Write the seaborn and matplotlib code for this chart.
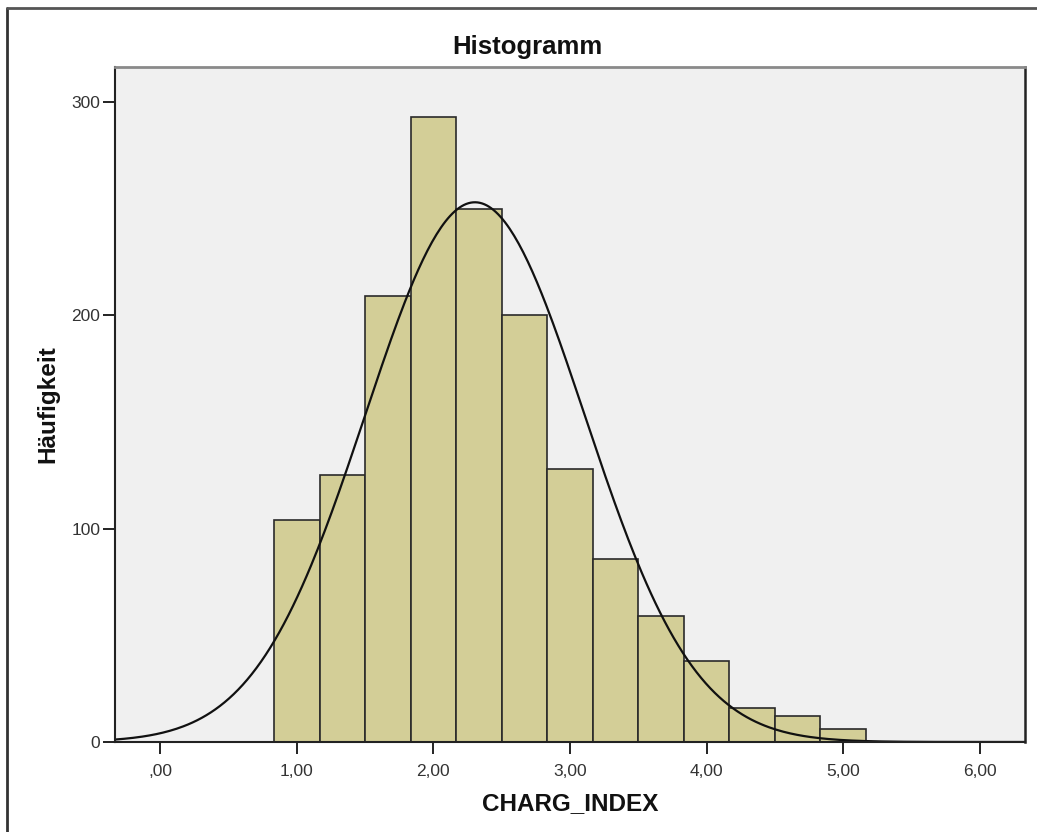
import numpy as np
import pandas as pd
import matplotlib
matplotlib.use("Agg")
import matplotlib.pyplot as plt
from matplotlib.lines import Line2D
from matplotlib.ticker import FuncFormatter, FixedLocator
import seaborn as sns

# ---- data ----
bin_edges = [0.8333, 1.1667, 1.5, 1.8333, 2.1667, 2.5, 2.8333, 3.1667,
             3.5, 3.8333, 4.1667, 4.5, 4.8333, 5.1667]
counts = [104, 125, 209, 293, 250, 200, 128, 86, 59, 38, 16, 12, 6]
x_ticks = [0, 1, 2, 3, 4, 5, 6]
y_ticks = [0, 100, 200, 300]
title = "Histogramm"
x_label = "CHARG_INDEX"
y_label = "Häufigkeit"

edges = np.array(bin_edges)
mids = (edges[:-1] + edges[1:]) / 2
cnt = np.array(counts, dtype=float)
df = pd.DataFrame({"CHARG_INDEX": mids, "n": cnt})

# normal curve fitted to the histogram (as SPSS draws it)
N = cnt.sum()
mean = (mids * cnt).sum() / N
sd = np.sqrt(((mids - mean) ** 2 * cnt).sum() / N)
width = edges[1] - edges[0]
xmin, xmax = -0.33, 6.33
xs = np.linspace(xmin, xmax, 400)
ys = N * width * np.exp(-0.5 * ((xs - mean) / sd) ** 2) / (sd * np.sqrt(2 * np.pi))
curve = pd.DataFrame({"x": xs, "y": ys})

# ---- figure ----
sns.set_theme(style="white")
plt.rcParams["font.family"] = ["Liberation Sans", "DejaVu Sans"]

W, H = 1037, 832
fig = plt.figure(figsize=(W / 100, H / 100), dpi=100)
fig.patch.set_facecolor("white")
ax = fig.add_axes([115 / W, 1 - 742 / H, (1025 - 115) / W, (742 - 67) / H])
ax.set_facecolor("#F0F0F0")

sns.histplot(data=df, x="CHARG_INDEX", weights="n", bins=list(bin_edges),
             stat="count", color="#D3CE97", edgecolor="#2a2a2a", linewidth=1.2,
             alpha=1, ax=ax)
sns.lineplot(data=curve, x="x", y="y", color="#111111", linewidth=1.6, ax=ax)

ax.set_xlim(xmin, xmax)
ax.set_ylim(0, 316.5)
ax.xaxis.set_major_locator(FixedLocator(x_ticks))
ax.yaxis.set_major_locator(FixedLocator(y_ticks))


def de_fmt(v, pos):
    s = f"{v:.2f}".replace(".", ",")
    if s.startswith("0,"):
        s = s[1:]
    return s


ax.xaxis.set_major_formatter(FuncFormatter(de_fmt))
ax.yaxis.set_major_formatter(FuncFormatter(lambda v, p: f"{int(v)}"))

ax.tick_params(axis="both", which="major", direction="out", length=8.5,
               width=1.4, color="#222222", labelsize=12.5, labelcolor="#333333",
               bottom=True, left=True, pad=2)
ax.tick_params(axis="x", pad=7)

for side in ["left", "bottom"]:
    ax.spines[side].set_color("#222222")
    ax.spines[side].set_linewidth(1.5)
ax.spines["top"].set_color("#8a8a8a")
ax.spines["top"].set_linewidth(2)
ax.spines["right"].set_color("#222222")
ax.spines["right"].set_linewidth(1.8)

fig.text(527 / W, 1 - 47 / H, title, fontsize=18.5, fontweight="bold",
         color="#111111", ha="center", va="center")
ax.set_xlabel(x_label, fontsize=17.5, fontweight="bold", color="#111111", labelpad=10)
ax.set_ylabel(y_label, fontsize=17.5, fontweight="bold", color="#111111", labelpad=9)

# outer frame of the exported chart
fig.add_artist(Line2D([7 / W, 7 / W], [0, 1 - 8 / H], transform=fig.transFigure,
                      color="#333333", linewidth=2))
fig.add_artist(Line2D([7 / W, 1], [1 - 8 / H, 1 - 8 / H], transform=fig.transFigure,
                      color="#555555", linewidth=2))

fig.savefig("out.png", dpi=100, facecolor="white")
